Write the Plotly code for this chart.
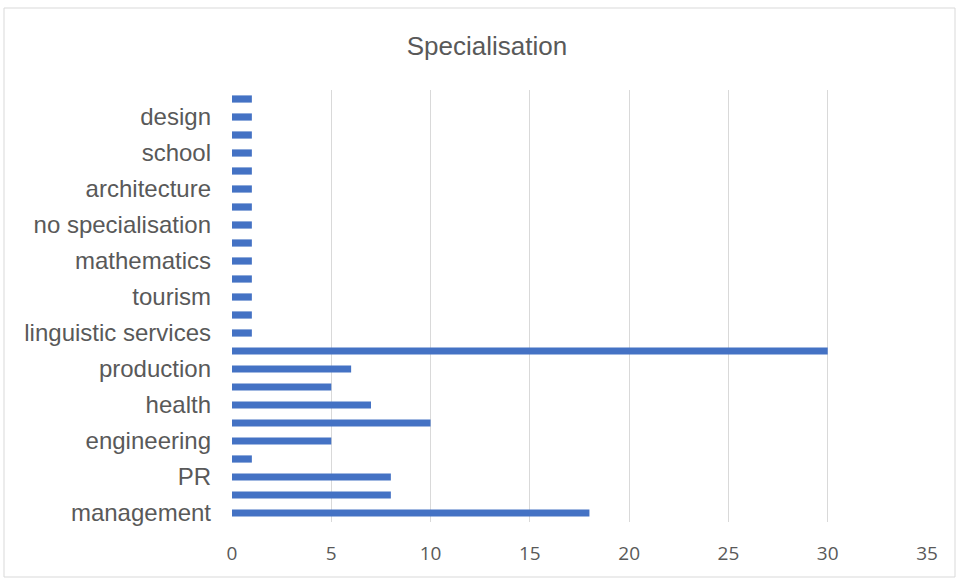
import plotly.graph_objects as go

# categories from bottom to top (only every other label is legible in the reference)
categories = ["management", None, "PR", None, "engineering", None, "health", None,
              "production", None, "linguistic services", None, "tourism", None,
              "mathematics", None, "no specialisation", None, "architecture", None,
              "school", None, "design", None]
values = [18, 8, 8, 1, 5, 10, 7, 5, 6, 30, 1, 1, 1, 1, 1, 1, 1, 1, 1, 1, 1, 1, 1, 1]
x_ticks = [0, 5, 10, 15, 20, 25, 30, 35]

positions = list(range(len(categories)))
tickvals = [p for p, c in zip(positions, categories) if c]
ticktext = [c for c in categories if c]

fig = go.Figure(go.Bar(
    x=values, y=positions, orientation="h",
    marker=dict(color="#4472C4", line=dict(width=0)),
    width=0.4,
))

L, R, T, B = 232, 31, 90, 57
W, H = 958, 579
pw, ph = W - L - R, H - T - B

def px2paper_x(px):
    return (px - L) / pw

def px2paper_y(py):
    return (H - B - py) / ph

fig.update_layout(
    width=W, height=H,
    margin=dict(l=L, r=R, t=T, b=B),
    paper_bgcolor="white", plot_bgcolor="white",
    showlegend=False,
    title=dict(text="Specialisation", x=px2paper_x(487), xref="paper", xanchor="center",
               y=1 - 46 / H, yanchor="middle",
               font=dict(family="Liberation Sans", size=26, color="#595959")),
    xaxis=dict(range=[0, 35], tickvals=x_ticks, showgrid=True, gridcolor="#D9D9D9",
               gridwidth=1, zeroline=False, showline=False, ticks="", ticklabelstandoff=18,
               tickfont=dict(family="Open Sans", size=19, color="#595959")),
    yaxis=dict(range=[-0.5, 23.5], tickvals=tickvals, ticktext=ticktext, showgrid=False,
               zeroline=False, showline=False, ticks="", ticklabelstandoff=20,
               tickfont=dict(family="Liberation Sans", size=24, color="#595959")),
    shapes=[dict(type="rect", xref="paper", yref="paper",
                 x0=px2paper_x(4), x1=px2paper_x(955), y0=px2paper_y(577), y1=px2paper_y(8),
                 line=dict(color="#D9D9D9", width=1), layer="below")],
)

fig.write_html("out.html")
